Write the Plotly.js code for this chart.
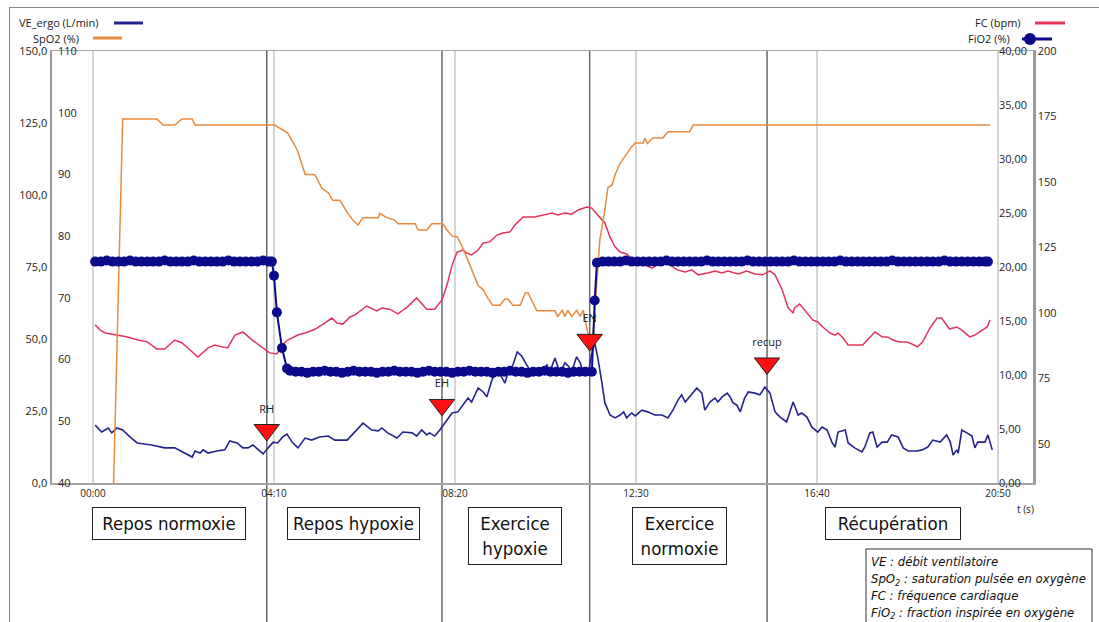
<!DOCTYPE html>
<html>
<head>
<meta charset="utf-8">
<script src="https://cdn.plot.ly/plotly-3.0.1.min.js"></script>
<style>
html,body{margin:0;padding:0;background:#ffffff;}
#chart{width:1099px;height:622px;}
</style>
</head>
<body>
<div id="chart"></div>
<script>
// ---------- Data (time in seconds) ----------
const xTickVals = [0, 250, 500, 750, 1000, 1250];
const xTickText = ["00:00", "04:10", "08:20", "12:30", "16:40", "20:50"];

// VE_ergo (L/min)
const veT = [3,12,21,26,33,41,51,61,81,99,
  113,127,137,141,148,152,159,171,182,189,
  199,207,214,221,228,235,242,249,255,262,
  268,275,283,293,302,313,325,334,351,362,
  373,385,394,399,407,420,428,441,447,454,
  461,465,472,479,489,496,504,511,518,523,
  532,539,544,551,558,565,569,573,579,586,
  592,599,606,615,621,627,631,638,645,652,
  657,661,668,673,677,684,689,693,697,703,
  707,711,714,721,728,733,737,744,749,758,
  766,776,786,794,801,808,813,818,824,834,
  841,845,852,859,863,869,876,880,884,889,
  894,900,905,914,921,928,935,942,949,958,
  967,974,979,986,993,1001,1007,1014,1021,1025,
  1029,1039,1043,1052,1062,1066,1073,1077,1083,1090,
  1097,1103,1112,1119,1126,1138,1145,1153,1160,1170,
  1179,1184,1188,1193,1195,1200,1207,1214,1218,1222,
  1232,1236,1242];
const veV = [20.1,17.7,19.1,17.4,19.1,18.4,16.0,13.9,13.2,12.2,
  12.2,10.4,9.0,11.1,10.4,11.5,10.4,11.1,11.5,14.6,
  13.9,12.2,12.2,13.2,11.5,10.1,12.2,14.2,13.9,16.0,
  17.0,14.2,12.2,15.6,14.9,16.0,16.3,14.9,14.9,17.7,
  20.8,18.4,18.1,19.1,17.4,15.6,17.7,17.4,16.3,18.4,
  16.7,17.4,16.3,18.4,21.9,24.3,24.7,27.1,29.5,28.1,
  33.0,31.6,29.9,35.8,39.2,36.5,34.7,38.2,40.3,45.5,
  44.1,41.0,38.2,38.2,39.2,41.0,38.5,43.4,38.2,41.7,
  40.5,38.5,43.8,41.7,38.5,38.2,45.1,48.6,43.8,34.7,
  27.8,25.5,23.6,22.6,23.6,24.7,22.6,24.3,23.3,25.3,
  24.7,23.6,23.6,22.6,25.3,28.8,30.6,28.1,29.9,33.0,
  31.2,25.3,28.1,29.5,28.1,29.9,31.2,29.9,27.8,27.1,
  24.7,29.5,31.6,31.2,30.6,33.3,31.2,24.7,22.9,21.2,
  28.1,23.6,24.3,22.9,19.4,17.7,19.4,18.4,13.9,12.5,
  17.7,18.4,13.9,12.2,10.8,12.5,17.4,17.7,12.5,14.2,
  14.2,16.7,16.0,12.2,11.1,11.1,11.5,12.5,14.9,14.2,
  16.7,14.2,9.7,11.5,10.4,18.4,17.4,16.3,12.2,14.2,
  14.2,16.7,11.5];

// FC (bpm)
const fcT = [3,10,17,33,48,62,75,88,99,113,
  123,134,145,159,168,178,186,196,207,220,
  233,244,254,261,269,283,297,307,320,330,
  337,345,355,362,378,392,399,410,421,434,
  447,461,472,482,489,496,503,511,516,523,
  532,539,548,558,566,576,583,594,610,628,
  634,642,652,661,670,682,689,697,707,714,
  721,728,737,746,753,762,772,783,797,807,
  818,827,836,849,859,869,877,891,903,914,
  925,935,942,952,960,967,969,976,986,994,
  1001,1008,1018,1025,1029,1036,1043,1063,1080,1090,
  1097,1105,1114,1124,1131,1139,1146,1156,1166,1172,
  1183,1193,1200,1211,1218,1228,1235,1239];
const fcV = [95.4,93.4,92.3,91.5,90.8,89.6,88.9,86.2,86.2,89.6,
  88.5,85.8,83.1,86.6,87.7,87.0,86.6,91.5,92.7,89.6,
  87.0,84.7,84.3,87.7,89.6,91.5,92.7,93.8,96.1,98.0,
  96.1,95.7,98.4,99.2,102.6,100.7,101.8,101.4,99.6,102.2,
  105.7,101.4,101.4,104.9,110.6,118.3,123.2,124.0,122.9,122.1,
  124.0,126.7,127.1,129.7,130.5,130.9,133.6,136.6,136.6,137.8,
  138.1,137.4,138.1,137.7,139.3,140.4,140.0,137.4,134.3,129.0,
  125.2,123.2,122.5,120.2,120.2,118.3,117.1,119.1,118.3,116.4,
  115.6,116.4,114.5,115.2,116.0,115.2,116.0,114.8,116.0,114.8,
  114.5,116.0,114.5,108.7,101.9,99.9,101.9,103.4,99.9,97.3,
  96.5,94.6,92.3,91.5,92.3,90.4,87.7,87.7,92.7,90.8,
  90.8,89.6,88.9,88.9,88.1,87.0,88.9,94.2,98.0,98.0,
  93.8,94.6,93.4,90.8,91.5,93.4,94.6,97.3];

// SpO2 (%)
const spT = [20,41,88,97,113,123,137,141,251,258,
  269,282,293,304,307,316,325,331,341,351,
  359,366,373,394,396,406,417,421,445,449,
  461,468,483,489,496,503,510,516,523,532,
  539,545,552,562,569,573,580,590,597,601,
  613,638,642,648,652,656,661,668,673,677,
  689,700,707,711,717,721,728,737,744,749,
  760,762,766,773,787,794,824,829,1239];
const spV = [0,99,99,98,98,99,99,98,98,97.5,
  96.7,94,90,90,89.9,87.8,87,85.8,85.8,83.9,
  82.6,81.8,83,83,83.7,83,82.6,82,82,81,
  81,82,82,81,80,79.9,78.3,76.6,74.5,72,
  71.3,70,68.8,68.8,69.8,69.8,68.8,68.8,70.8,70.8,
  67.9,67.9,67,68,67,68,67,68,67,68,
  61,79.4,84.2,87.8,88.3,89.9,91.8,93.4,94.5,95.1,
  95.1,95.9,95,95.9,95.9,96.9,96.9,98,98];

// FiO2 (%)
const fioT = [3,11,19,27,35,43,51,59,67,75,83,91,99,107,115,123,131,139,147,155,
  163,171,179,187,195,203,211,219,227,235,243,247,
  250,254,261,268,
  272,280,288,296,304,312,320,328,336,344,352,360,368,376,384,392,400,408,416,424,
  432,440,448,456,464,472,480,488,496,504,512,520,528,536,544,552,560,568,576,584,
  592,600,608,616,624,632,640,648,656,664,672,680,689,
  693,
  696,704,712,720,728,736,744,752,760,768,776,784,792,800,808,816,824,832,840,848,
  856,864,872,880,888,896,904,912,920,928,936,944,952,960,968,976,984,992,1000,1008,
  1016,1024,1032,1040,1048,1056,1064,1072,1080,1088,1096,1104,1112,1120,1128,1136,1144,1152,1160,1168,
  1176,1184,1192,1200,1208,1216,1224,1232,1236];
const fioV = [20.5,20.5,20.6,20.5,20.5,20.5,20.6,20.5,20.5,20.5,20.5,20.5,20.6,20.5,20.5,20.5,20.5,20.6,20.5,20.5,
  20.5,20.5,20.5,20.6,20.5,20.5,20.5,20.5,20.5,20.6,20.5,20.5,
  19.2,15.8,12.5,10.6,
  10.4,10.3,10.3,10.2,10.3,10.3,10.4,10.3,10.3,10.2,10.3,10.4,10.3,10.3,10.3,10.2,10.3,10.3,10.4,10.3,
  10.3,10.3,10.2,10.3,10.4,10.3,10.3,10.3,10.2,10.3,10.3,10.4,10.3,10.3,10.3,10.2,10.3,10.3,10.4,10.3,
  10.3,10.2,10.3,10.3,10.4,10.3,10.3,10.3,10.2,10.3,10.3,10.3,10.3,
  16.9,
  20.4,20.5,20.5,20.5,20.5,20.6,20.5,20.5,20.5,20.5,20.5,20.5,20.6,20.5,20.5,20.5,20.5,20.5,20.5,20.6,
  20.5,20.5,20.5,20.5,20.5,20.5,20.6,20.5,20.5,20.5,20.5,20.5,20.5,20.5,20.6,20.5,20.5,20.5,20.5,20.5,
  20.5,20.5,20.6,20.5,20.5,20.5,20.5,20.5,20.5,20.5,20.5,20.6,20.5,20.5,20.5,20.5,20.5,20.5,20.5,20.5,
  20.6,20.5,20.5,20.5,20.5,20.5,20.5,20.5,20.5];

// Events (markers)
const eventT = [240, 482, 686, 931];
const eventLabel = ["RH", "EH", "EN", "recup"];
const eventVE = [18.4, 27.1, 49.7, 41.5];

// Phase labels
const phaseText = ["Repos normoxie", "Repos hypoxie", "Exercice<br>hypoxie", "Exercice<br>normoxie", "Récupération"];

// ---------- Styling ----------
const FONT = '"Open Sans", "Noto Sans", sans-serif';
const COND = '"Liberation Sans Narrow", "DejaVu Sans Condensed", "Roboto Condensed", "Open Sans", sans-serif';
const C_VE = '#23238e', C_FIO = '#0a0a8a', C_FC = '#e3345a', C_SP = '#ea8a3e';

const traces = [
  {x: veT, y: veV, yaxis: 'y', type: 'scatter', mode: 'lines', line: {color: C_VE, width: 1.6}, name: 'VE_ergo (L/min)'},
  {x: fcT, y: fcV, yaxis: 'y2', type: 'scatter', mode: 'lines', line: {color: C_FC, width: 1.5}, name: 'FC (bpm)'},
  {x: spT, y: spV, yaxis: 'y3', type: 'scatter', mode: 'lines', line: {color: C_SP, width: 1.5}, name: 'SpO2 (%)'},
  {x: fioT, y: fioV, yaxis: 'y4', type: 'scatter', mode: 'lines+markers', line: {color: C_FIO, width: 2}, marker: {color: C_FIO, size: 10}, name: 'FiO2 (%)'},
  {x: eventT, y: eventVE, yaxis: 'y5', type: 'scatter', mode: 'markers+text', text: eventLabel, textposition: 'top center',
   textfont: {size: 11, color: '#222'}, marker: {symbol: 'triangle-down', size: 22, color: '#ff1010', line: {color: '#222', width: 1}}, cliponaxis: false}
];

// pixel -> paper helpers for decorations (plot area 52..1033 x 51..483)
const PX = p => (p - 52) / 981;
const PY = p => (483 - p) / 432;

const shapes = [];
eventT.forEach(t => shapes.push({type: 'line', xref: 'x', yref: 'paper', x0: t, x1: t, y0: PY(622), y1: 1,
  line: {color: '#6a6a6a', width: 1.5}, layer: 'below'}));
// legend lines
shapes.push({type: 'line', xref: 'paper', yref: 'paper', x0: PX(114), x1: PX(143), y0: PY(23), y1: PY(23), line: {color: C_VE, width: 3}});
shapes.push({type: 'line', xref: 'paper', yref: 'paper', x0: PX(93), x1: PX(122), y0: PY(38), y1: PY(38), line: {color: C_SP, width: 3}});
shapes.push({type: 'line', xref: 'paper', yref: 'paper', x0: PX(1035), x1: PX(1065), y0: PY(23), y1: PY(23), line: {color: C_FC, width: 3}});
shapes.push({type: 'line', xref: 'paper', yref: 'paper', x0: PX(1022), x1: PX(1052), y0: PY(39), y1: PY(39), line: {color: C_FIO, width: 3}});
shapes.push({type: 'circle', xref: 'paper', yref: 'paper', xsizemode: 'pixel', ysizemode: 'pixel',
  xanchor: PX(1030), yanchor: PY(39), x0: -6, x1: 6, y0: -6, y1: 6, fillcolor: C_FIO, line: {width: 0}});
// definitions box
shapes.push({type: 'rect', xref: 'paper', yref: 'paper', x0: PX(866), x1: PX(1092), y0: PY(549), y1: PY(630),
  line: {color: '#333', width: 1}, fillcolor: 'rgba(0,0,0,0)'});
// outer frame
shapes.push({type: 'line', xref: 'paper', yref: 'paper', x0: PX(9), x1: PX(1099), y0: PY(7.5), y1: PY(7.5), line: {color: '#8a8a8a', width: 1}});
shapes.push({type: 'line', xref: 'paper', yref: 'paper', x0: PX(9.5), x1: PX(9.5), y0: PY(7.5), y1: PY(622), line: {color: '#8a8a8a', width: 1}});

const annotations = [
  {xref: 'paper', yref: 'paper', x: PX(101), y: PY(23), xanchor: 'right', yanchor: 'middle', text: 'VE_ergo (L/min)', showarrow: false, font: {size: 11, color: '#222'}},
  {xref: 'paper', yref: 'paper', x: PX(81), y: PY(38), xanchor: 'right', yanchor: 'middle', text: 'SpO2 (%)', showarrow: false, font: {size: 11, color: '#222'}},
  {xref: 'paper', yref: 'paper', x: PX(1023), y: PY(23), xanchor: 'right', yanchor: 'middle', text: 'FC (bpm)', showarrow: false, font: {size: 11, color: '#222'}},
  {xref: 'paper', yref: 'paper', x: PX(1012), y: PY(38), xanchor: 'right', yanchor: 'middle', text: 'FiO2 (%)', showarrow: false, font: {size: 11, color: '#222'}},
  {xref: 'paper', yref: 'paper', x: PX(1025), y: PY(509), xanchor: 'center', yanchor: 'middle', text: 't (s)', showarrow: false, font: {size: 10, color: '#222'}},
  {xref: 'paper', yref: 'paper', x: PX(869), y: PY(552), xanchor: 'left', yanchor: 'top', align: 'left', showarrow: false,
   font: {family: COND, size: 13, color: '#111'},
   text: '<i>VE : débit ventilatoire</i><br><i>SpO<sub>2</sub> : saturation pulsée en oxygène</i><br><i>FC : fréquence cardiaque</i><br><i>FiO<sub>2</sub> : fraction inspirée en oxygène</i>'}
];
const phaseBox = [
  {cx: 169, cy: 523.5, w: 154, h: 33},
  {cx: 353.5, cy: 523.5, w: 133, h: 33},
  {cx: 515, cy: 536, w: 94, h: 58},
  {cx: 679.5, cy: 536, w: 95, h: 58},
  {cx: 893, cy: 523.5, w: 136, h: 33}
];
phaseText.forEach((t, i) => {
  const b = phaseBox[i];
  annotations.push({xref: 'paper', yref: 'paper', x: PX(b.cx), y: PY(b.cy), xanchor: 'center', yanchor: 'middle',
    width: b.w - 2, height: b.h - 2, align: 'center', valign: 'middle', showarrow: false, text: t,
    bordercolor: '#222', borderwidth: 1, borderpad: 0, bgcolor: '#fff',
    font: {family: COND, size: 18.5, color: '#111'}});
});

const layout = {
  width: 1099, height: 622,
  margin: {l: 52, r: 66, t: 51, b: 139, pad: 0},
  paper_bgcolor: '#ffffff', plot_bgcolor: 'rgba(0,0,0,0)',
  separators: ', ',
  showlegend: false,
  font: {family: FONT, size: 11, color: '#222'},
  xaxis: {range: [-56.6, 1298.3], tickvals: xTickVals, ticktext: xTickText, showgrid: true, gridcolor: '#d6d6d6', gridwidth: 1.5,
    showline: true, linecolor: '#a5a5a5', linewidth: 1.5, mirror: true, ticks: '', zeroline: false, tickfont: {size: 10}},
  yaxis: {range: [0, 150], tickvals: [0, 25, 50, 75, 100, 125, 150], tickformat: '.1f', showgrid: false, zeroline: false,
    showline: true, linecolor: '#9a9a9a', linewidth: 2.5, ticks: '', tickfont: {size: 11}},
  yaxis2: {overlaying: 'y', side: 'right', anchor: 'x', range: [35, 200], tickvals: [50, 75, 100, 125, 150, 175, 200],
    showgrid: false, zeroline: false, showline: true, linecolor: '#9a9a9a', linewidth: 2.5, ticks: '', tickfont: {size: 11}},
  yaxis3: {overlaying: 'y', side: 'right', anchor: 'free', position: PX(57), range: [40, 110], tickvals: [40, 50, 60, 70, 80, 90, 100, 110],
    showgrid: false, zeroline: false, showline: false, ticks: '', tickfont: {size: 11}},
  yaxis4: {overlaying: 'y', side: 'right', anchor: 'free', position: PX(998), range: [0, 40], tickvals: [0, 5, 10, 15, 20, 25, 30, 35, 40],
    tickformat: '.2f', showgrid: false, zeroline: false, showline: false, ticks: '', tickfont: {size: 11}},
  yaxis5: {overlaying: 'y', range: [0, 150], visible: false},
  shapes: shapes,
  annotations: annotations
};

Plotly.newPlot('chart', traces, layout, {displayModeBar: false, staticPlot: true});
</script>
</body>
</html>
